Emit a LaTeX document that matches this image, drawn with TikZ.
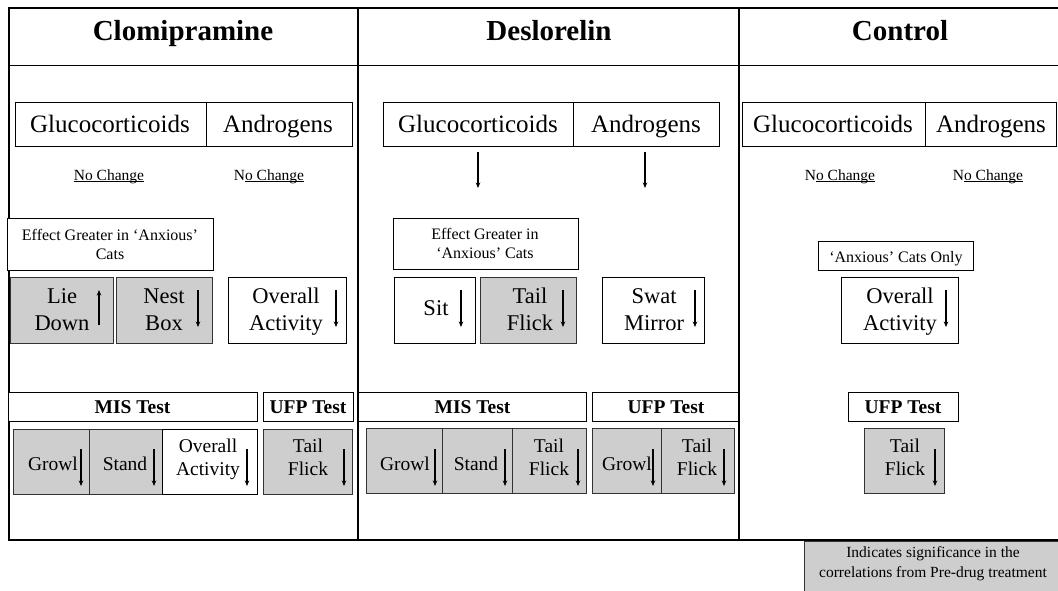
\documentclass[tikz,border=0pt]{standalone}
\usepackage{fontspec}
\setmainfont{Liberation Serif}
\usetikzlibrary{arrows.meta}
\definecolor{siggray}{HTML}{CECECE}

% rectangular cell from (x1,y1) to (x2,y2); y grows downwards
\newcommand\cell[6][box]{\node[#1,anchor=north west,minimum width={(#5)-(#3)},minimum height={(#6)-(#4)}] (#2) at (#3,#4) {};}
% underline drawn close to the baseline, crossing descenders
\newcommand\ulin[1]{\setbox0=\hbox{#1}\rlap{\rule[-1.6pt]{\wd0}{0.7pt}}\box0}

\begin{document}
% multi-line labels are placed by the baseline of their last line
\begin{tikzpicture}[x=1pt,y=-1pt,
  box/.style={draw=black,line width=0.9pt,fill=white,inner sep=0pt},
  sig/.style={draw=black!80,line width=0.9pt,fill=siggray,inner sep=0pt},
  frame/.style={line width=2pt,draw=black},
  sep/.style={line width=2pt,draw=black},
  txt/.style={inner sep=0pt,anchor=base,align=center},
  head/.style={txt,font=\fontsize{29}{33}\selectfont\bfseries},
  horm/.style={txt,font=\fontsize{25}{29}\selectfont},
  chg/.style={txt,font=\fontsize{15.5}{18}\selectfont},
  note/.style={txt,font=\fontsize{16}{18.5}\selectfont},
  beh/.style={txt,font=\fontsize{22.5}{27}\selectfont},
  behs/.style={txt,font=\fontsize{19.5}{22.5}\selectfont},
  test/.style={txt,font=\fontsize{19.5}{23}\selectfont\bfseries},
  leg/.style={txt,font=\fontsize{15.5}{20}\selectfont},
  ind/.style={line width=1.1pt,-{Stealth[length=5.5pt,width=4.5pt]}},
]
\useasboundingbox (0,0) rectangle (1058,590);
\begin{scope}
\clip (0,0) rectangle (1058,590);

% legend (extends past the right and bottom edges)
\cell[sig]{legend}{804}{541}{1080}{610}
\node[leg] (leg1) at (933,557) {Indicates significance in the};
\node[leg] (leg2) at (933,577) {correlations from Pre-drug treatment};

% outer frame, header rule and column separators
\draw[frame] (8.5,7.5) rectangle (1066,540);
\draw[line width=1pt] (8.5,65) -- (1066,65);
\draw[sep] (358,7.5) -- (358,540);
\draw[sep] (739,7.5) -- (739,540);

% column titles
\node[head] (hclo) at (183,40) {Clomipramine};
\node[head] (hdes) at (549,40) {Deslorelin};
\node[head] (hcon) at (900,40) {Control};

% ---------------- Clomipramine ----------------
\cell{glu1}{15}{102}{206}{146}
\cell{and1}{206}{102}{352}{146}
\node[horm] (tglu1) at (110,132) {Glucocorticoids};
\node[horm] (tand1) at (278,132) {Androgens};
\node[chg] (nc1a) at (109,180) {\ulin{No Change}};
\node[chg] (nc1b) at (269,180) {N\ulin{o Change}};

\cell{eff1}{7}{218}{213}{270}
\node[note] (teff1) at (110,259) {Effect Greater in ‘Anxious’\\Cats};

\cell[sig]{lie}{10}{277}{113}{343}
\node[beh] (tlie) at (62,330) {Lie\\Down};
\draw[ind] (99,325) -- (99,290);
\cell[sig]{nest}{116}{277}{212}{343}
\node[beh] (tnest) at (164,330) {Nest\\Box};
\draw[ind] (198,290) -- (198,327);
\cell{ovr1}{228}{277}{346}{343}
\node[beh] (tovr1) at (286,330) {Overall\\Activity};
\draw[ind] (336,290) -- (336,327);

\cell{mis1}{8}{392}{257}{421}
\node[test] (tmis1) at (132.5,413) {MIS Test};
\cell{ufp1}{263}{392}{353}{421}
\node[test] (tufp1) at (308,413) {UFP Test};

\cell[sig]{gro1}{13}{429}{89}{494}
\node[behs] (tgro1) at (53,470) {Growl};
\draw[ind] (81,449) -- (81,486);
\cell[sig]{sta1}{89}{429}{162}{494}
\node[behs] (tsta1) at (125,470) {Stand};
\draw[ind] (154,449) -- (154,486);
\cell{ova1}{162}{429}{257}{494}
\node[behs] (tova1) at (208,475) {Overall\\Activity};
\draw[ind] (247,449) -- (247,486);
\cell[sig]{tf1}{263}{429}{352}{494}
\node[behs] (ttf1) at (308,475) {Tail\\Flick};
\draw[ind] (344,449) -- (344,486);

% ---------------- Deslorelin ----------------
\cell{glu2}{383}{102}{573}{146}
\cell{and2}{573}{102}{719}{146}
\node[horm] (tglu2) at (478,132) {Glucocorticoids};
\node[horm] (tand2) at (646,132) {Androgens};
\draw[ind] (478,152) -- (478,188);
\draw[ind] (645,152) -- (645,188);

\cell{eff2}{393}{218}{578}{269}
\node[note] (teff2) at (485,258) {Effect Greater in\\‘Anxious’ Cats};

\cell{sit}{394}{277}{475}{343}
\node[beh] (tsit) at (436,315) {Sit};
\draw[ind] (461,290) -- (461,327);
\cell[sig]{tail2}{480}{277}{576}{343}
\node[beh] (ttail2) at (530,330) {Tail\\Flick};
\draw[ind] (563,290) -- (563,327);
\cell{swat}{602}{277}{704}{343}
\node[beh] (tswat) at (654,330) {Swat\\Mirror};
\draw[ind] (695,290) -- (695,327);

\cell{mis2}{358}{392}{586}{421}
\node[test] (tmis2) at (472.5,413) {MIS Test};
\cell{ufp2}{592}{392}{738}{421}
\node[test] (tufp2) at (666,413) {UFP Test};

\cell[sig]{gro2}{366}{428}{442}{493}
\node[behs] (tgro2) at (405,470) {Growl};
\draw[ind] (435,449) -- (435,486);
\cell[sig]{sta2}{442}{428}{512}{493}
\node[behs] (tsta2) at (476,470) {Stand};
\draw[ind] (505,449) -- (505,486);
\cell[sig]{tf2}{512}{428}{586}{493}
\node[behs] (ttf2) at (549,475) {Tail\\Flick};
\draw[ind] (578,449) -- (578,486);
\cell[sig]{gro3}{592}{428}{661}{493}
\node[behs] (tgro3) at (627,470) {Growl};
\draw[ind] (653,449) -- (653,486);
\cell[sig]{tf3}{661}{428}{734}{493}
\node[behs] (ttf3) at (697,475) {Tail\\Flick};
\draw[ind] (724,449) -- (724,486);

% ---------------- Control ----------------
\cell{glu3}{742}{102}{925}{146}
\cell{and3}{925}{102}{1056}{146}
\node[horm] (tglu3) at (833,132) {Glucocorticoids};
\node[horm] (tand3) at (991,132) {Androgens};
\node[chg] (nc3a) at (840,180) {N\ulin{o Change}};
\node[chg] (nc3b) at (988,180) {N\ulin{o Change}};

\cell{anx}{818}{241}{973}{270}
\node[note] (tanx) at (896,262) {‘Anxious’ Cats Only};

\cell{ovr3}{841}{277}{958}{343}
\node[beh] (tovr3) at (900,330) {Overall\\Activity};
\draw[ind] (946,290) -- (946,327);

\cell{ufp3}{848}{392}{958}{421}
\node[test] (tufp3) at (903,413) {UFP Test};
\cell[sig]{tf4}{864}{428}{944}{493}
\node[behs] (ttf4) at (905,475) {Tail\\Flick};
\draw[ind] (935,449) -- (935,486);
\end{scope}
\end{tikzpicture}
\end{document}
